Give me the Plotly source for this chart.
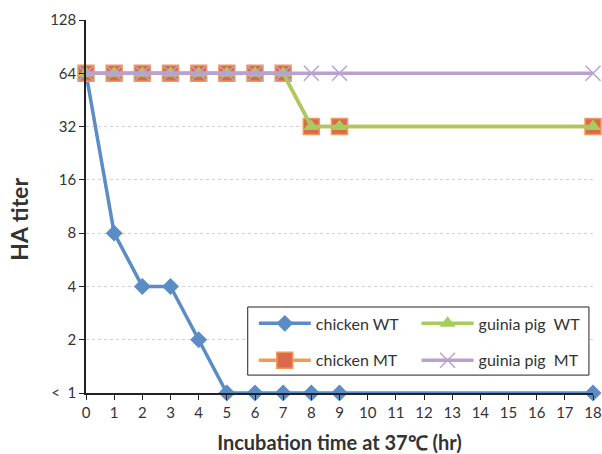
import plotly.graph_objects as go

hours = [0, 1, 2, 3, 4, 5, 6, 7, 8, 9, 18]
chicken_wt = [64, 8, 4, 4, 2, 1, 1, 1, 1, 1, 1]
chicken_mt = [64, 64, 64, 64, 64, 64, 64, 64, 32, 32, 32]
gp_wt = [64, 64, 64, 64, 64, 64, 64, 64, 32, 32, 32]
gp_mt = [64, 64, 64, 64, 64, 64, 64, 64, 64, 64, 64]

y_tickvals = [1, 2, 4, 8, 16, 32, 64, 128]
y_ticktext = ["<  1", "2", "4", "8", "16", "32", "64", "128"]
x_tickvals = list(range(0, 19))

FONT = "Lato"
TXT = "#333333"

fig = go.Figure()
fig.add_trace(go.Scatter(x=hours, y=chicken_wt, name="chicken WT", mode="lines+markers",
                         line=dict(color="#5B8CC6", width=3.5),
                         marker=dict(symbol="diamond", size=13, color="#5B8CC6"),
                         legend="legend", legendgroup="a", cliponaxis=False))
fig.add_trace(go.Scatter(x=hours, y=chicken_mt, name="chicken MT", mode="lines+markers",
                         line=dict(color="#F29A55", width=3.5),
                         marker=dict(symbol="square", size=16, color="#DA6A4E",
                                     line=dict(color="#F29A55", width=1.5)),
                         legend="legend", legendgroup="b", cliponaxis=False))
fig.add_trace(go.Scatter(x=hours, y=gp_wt, name="guinia pig  WT", mode="lines+markers",
                         line=dict(color="#A8CC5C", width=3.5),
                         marker=dict(symbol="triangle-up", size=14, color="#A8CC5C"),
                         legend="legend2", legendgroup="c", cliponaxis=False))
fig.add_trace(go.Scatter(x=hours, y=gp_mt, name="guinia pig  MT", mode="lines+markers",
                         line=dict(color="#B9A2D0", width=3.5),
                         marker=dict(symbol="x-thin", size=15,
                                     line=dict(color="#B9A2D0", width=1.5)),
                         legend="legend2", legendgroup="d", cliponaxis=False))

leg_common = dict(orientation="v", xanchor="left", yanchor="top",
                  bgcolor="rgba(0,0,0,0)", borderwidth=0,
                  itemwidth=52, tracegroupgap=13,
                  font=dict(family=FONT, size=16, color=TXT))

fig.update_layout(
    width=602, height=454,
    margin=dict(l=86, r=9, t=20, b=61),
    plot_bgcolor="white", paper_bgcolor="white",
    font=dict(family=FONT, size=15, color=TXT),
    showlegend=True,
    legend=dict(x=0.331, y=0.232, **leg_common),
    legend2=dict(x=0.652, y=0.232, **leg_common),
    shapes=[dict(type="rect", xref="x domain", yref="y domain",
                 x0=0.319, x1=0.992, y0=0.048, y1=0.2306,
                 line=dict(color="#222222", width=1), fillcolor="white",
                 layer="above")],
    xaxis=dict(range=[0, 18], tickvals=x_tickvals, showgrid=False,
               showline=True, linecolor="#222222", linewidth=1.5,
               ticks="outside", ticklen=5, tickcolor="#222222",
               zeroline=False, automargin=False, ticklabeloverflow="allow",
               title=dict(text="<b>Incubation time at 37℃ (hr)</b>",
                          font=dict(family=FONT, size=20, color=TXT), standoff=24)),
    yaxis=dict(type="log", range=[0, 2.10721], tickvals=y_tickvals, ticktext=y_ticktext,
               showgrid=True, gridcolor="#d0d0d0", griddash="dot", gridwidth=1,
               showline=True, linecolor="#222222", linewidth=1.5,
               ticks="outside", ticklen=5, tickcolor="#222222", zeroline=False,
               automargin=False, ticklabeloverflow="allow",
               title=dict(text="<b>HA titer</b><span style='color:rgba(0,0,0,0)'>nn</span>",
                          font=dict(family=FONT, size=23, color=TXT), standoff=15)),
)

fig.write_html("out.html", config={"displayModeBar": False},
               post_script="document.body.style.margin='0';")
